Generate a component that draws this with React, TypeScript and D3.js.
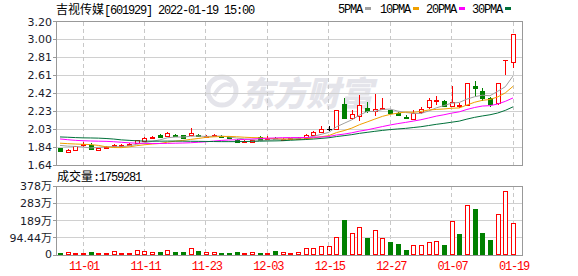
import React from 'react';
import * as d3 from 'd3';

const dates = [
  "10-27","10-28","10-29","11-01","11-02","11-03","11-04","11-05","11-08","11-09",
  "11-10","11-11","11-12","11-15","11-16","11-17","11-18","11-19","11-22","11-23",
  "11-24","11-25","11-26","11-29","11-30","12-01","12-02","12-03","12-06","12-07",
  "12-08","12-09","12-10","12-13","12-14","12-15","12-16","12-17","12-20","12-21",
  "12-22","12-23","12-24","12-27","12-28","12-29","12-30","12-31","01-04","01-05",
  "01-06","01-07","01-10","01-11","01-12","01-13","01-14","01-17","01-18","01-19"
];

const openP = [
  1.825,1.785,1.80,1.86,1.861,1.805,1.825,1.845,1.85,1.86,
  1.875,1.905,1.93,1.963,1.956,1.97,1.963,1.97,1.965,1.942,
  1.96,1.956,1.956,1.912,1.886,1.895,1.94,1.925,1.935,1.915,
  1.92,1.925,1.93,1.965,2.003,2.035,2.03,2.30,2.148,2.17,
  2.265,2.228,2.255,2.235,2.21,2.165,2.14,2.215,2.275,2.34,
  2.336,2.285,2.28,2.293,2.50,2.44,2.373,2.31,2.78,2.76
];
const highP = [
  1.83,1.81,1.85,1.89,1.883,1.825,1.85,1.87,1.87,1.875,
  1.915,1.945,1.95,1.98,2.00,1.975,1.965,2.045,1.975,1.965,
  1.98,1.97,1.96,1.92,1.91,1.915,1.955,1.95,1.94,1.93,
  1.935,1.94,1.975,2.015,2.06,2.06,2.24,2.37,2.24,2.40,
  2.32,2.41,2.37,2.24,2.215,2.18,2.24,2.27,2.373,2.39,
  2.345,2.50,2.31,2.53,2.55,2.48,2.38,2.53,2.78,3.06
];
const lowP = [
  1.78,1.78,1.795,1.84,1.80,1.792,1.82,1.84,1.845,1.855,
  1.87,1.90,1.925,1.93,1.95,1.95,1.928,1.965,1.945,1.94,
  1.955,1.94,1.92,1.88,1.88,1.89,1.905,1.915,1.91,1.91,
  1.915,1.92,1.925,1.955,1.99,2.01,2.03,2.148,2.13,2.12,
  2.20,2.177,2.25,2.19,2.17,2.14,2.135,2.19,2.25,2.293,
  2.275,2.27,2.255,2.29,2.38,2.336,2.275,2.29,2.62,2.69
];
const closeP = [
  1.789,1.807,1.847,1.869,1.815,1.82,1.84,1.855,1.86,1.87,
  1.912,1.934,1.945,1.942,1.985,1.956,1.93,1.988,1.955,1.96,
  1.965,1.945,1.93,1.887,1.905,1.912,1.91,1.935,1.92,1.925,
  1.93,1.935,1.965,2.00,2.035,2.035,2.24,2.155,2.19,2.29,
  2.23,2.25,2.262,2.21,2.18,2.155,2.203,2.25,2.348,2.35,
  2.28,2.33,2.29,2.53,2.48,2.366,2.30,2.53,2.78,3.06
];
// volume in 万股
const volumes = [
  12.6,16,11,11,18,11,11,22,11,11,
  26,22,16,16,26,16,16,37,22,16,
  16,11,11,16,11,16,11,11,22,16,
  11,16,37,37,49,49,97,192,119,155,
  91,135,91,71,60,27,53,53,71,77,
  53,186,115,274,252,122,82,225,351,175.9281
];
const ma5 = [
  1.853,1.845,1.842,1.836,1.825,1.832,1.838,1.840,1.838,1.849,
  1.865,1.882,1.898,1.913,1.936,1.944,1.944,1.952,1.955,1.950,
  1.952,1.955,1.945,1.933,1.924,1.915,1.909,1.910,1.916,1.920,
  1.924,1.929,1.935,1.951,1.973,1.994,2.055,2.093,2.131,2.182,
  2.221,2.223,2.244,2.248,2.226,2.211,2.202,2.200,2.227,2.261,
  2.286,2.312,2.320,2.356,2.382,2.399,2.393,2.441,2.491,2.607
];
const ma10 = [
  1.877,1.872,1.868,1.865,1.862,1.853,1.838,1.830,1.829,1.837,
  1.850,1.860,1.868,1.874,1.888,1.899,1.907,1.918,1.928,1.940,
  1.946,1.950,1.951,1.947,1.942,1.938,1.936,1.930,1.927,1.923,
  1.920,1.919,1.922,1.934,1.947,1.959,1.992,2.014,2.041,2.078,
  2.108,2.139,2.169,2.190,2.204,2.216,2.213,2.222,2.238,2.244,
  2.249,2.257,2.260,2.292,2.322,2.343,2.352,2.380,2.424,2.495
];
const ma20 = [
  1.923,1.915,1.908,1.904,1.901,1.899,1.897,1.893,1.887,1.881,
  1.877,1.875,1.874,1.874,1.875,1.877,1.879,1.882,1.887,1.892,
  1.900,1.907,1.912,1.914,1.918,1.923,1.927,1.931,1.934,1.937,
  1.938,1.938,1.939,1.942,1.944,1.949,1.966,1.976,1.990,2.008,
  2.022,2.040,2.058,2.075,2.090,2.103,2.117,2.132,2.151,2.171,
  2.186,2.204,2.218,2.244,2.265,2.281,2.285,2.303,2.332,2.369
];
const ma30 = [
  1.945,1.942,1.938,1.935,1.934,1.932,1.928,1.922,1.913,1.908,
  1.903,1.900,1.899,1.899,1.900,1.900,1.899,1.898,1.897,1.896,
  1.895,1.894,1.894,1.894,1.895,1.897,1.899,1.901,1.902,1.904,
  1.909,1.913,1.917,1.922,1.929,1.936,1.949,1.959,1.970,1.984,
  1.995,2.006,2.016,2.025,2.032,2.038,2.047,2.056,2.069,2.082,
  2.093,2.105,2.117,2.139,2.158,2.173,2.186,2.205,2.234,2.272
];

const priceTicks = [3.2, 3.005, 2.81, 2.615, 2.42, 2.225, 2.03, 1.835, 1.64];
const priceTickLabels = ["3.20","3.00","2.81","2.61","2.42","2.23","2.03","1.84","1.64"];
const volTicks = [377.76, 283.32, 188.88, 94.44, 0];
const volTickLabels = ["378万","283万","189万","94.44万","0"];
const xTickDates = ["11-01","11-11","11-23","12-03","12-15","12-27","01-07","01-19"];

const legendNames = ["5PMA","10PMA","20PMA","30PMA"];
const legendColors = ["#a0a0a0","#f0a000","#ff00ff","#00703a"];

const RED = "#ff0000";
const GREEN = "#008000";
const MONO = "'Liberation Mono', 'DejaVu Sans Mono', monospace";
const CJK = "'Noto Sans CJK SC', sans-serif";
const AXF = "'DejaVu Sans', 'Noto Sans CJK SC', sans-serif";

export default function App() {
  const W = 578, H = 276;
  const left = 56, right = 522;
  const mainTop = 21.5, mainBottom = 165;
  const volTop = 186, volBottom = 255;

  const x = d3.scalePoint<string>().domain(dates).range([60, 513]);
  const yP = d3.scaleLinear().domain([1.64, 3.2]).range([mainBottom, mainTop]);
  const yV = d3.scaleLinear().domain([0, 377.76]).range([volBottom, volTop]);
  const px = (v: number) => Math.floor(v) + 0.5;

  const mkLine = (arr: number[]) =>
    d3.line<number>().x((_, i) => x(dates[i]) as number).y((d) => yP(d))(arr) || "";
  const maSeries = [ma5, ma10, ma20, ma30];

  const candleColor = (i: number) => {
    const o = openP[i], c = closeP[i];
    const prev = i > 0 ? closeP[i - 1] : o;
    if (c > o) return RED;
    if (c < o) return GREEN;
    if (c > prev) return RED;
    if (c < prev) return GREEN;
    return "#000000";
  };
  const volColor = (i: number) => {
    if (i === 0) return closeP[0] >= openP[0] ? RED : GREEN;
    return closeP[i] >= closeP[i - 1] ? RED : GREEN;
  };

  return (
    <svg width={W} height={H} style={{ position: "absolute", left: 0, top: 0, background: "#fff" }}>
      <rect x={0} y={0} width={W} height={H} fill="#fff" />

      {/* title */}
      <text x={56} y={14} fontSize={12} fill="#000">
        <tspan fontFamily={CJK}>吉视传媒</tspan>
        <tspan fontFamily={MONO} letterSpacing={-1.2}>[601929] 2022-01-19 15:00</tspan>
      </text>

      {/* legend */}
      {legendNames.map((n, k) => {
        const lx = [338, 380, 426, 472][k];
        const sx = [365, 413, 459, 505][k];
        return (
          <g key={n}>
            <text x={lx} y={13} fontSize={12} fontFamily={MONO} letterSpacing={-1.2} fill="#000">{n}</text>
            <rect x={sx} y={7} width={6} height={3} fill={legendColors[k]} />
          </g>
        );
      })}

      {/* watermark */}
      <g opacity={1}>
        <circle cx={222} cy={91} r={14} fill="none" stroke="#e4e4ea" strokeWidth={5} />
        <path d="M214,96 Q222,80 232,86" fill="none" stroke="#e4e4ea" strokeWidth={4} />
        <text x={240} y={106} fontSize={34} fontFamily={CJK} fontWeight={900} fontStyle="italic"
          letterSpacing={-1} fill="#e4e4ea">东方财富</text>
      </g>

      {/* main grid */}
      {priceTicks.map((t, k) => (
        <g key={"pg" + k}>
          <line x1={left} x2={right} y1={px(yP(t))} y2={px(yP(t))} stroke="#d0d0d0" shapeRendering="crispEdges" />
          <line x1={53} x2={left} y1={px(yP(t))} y2={px(yP(t))} stroke="#999" shapeRendering="crispEdges" />
          <text x={52} y={yP(t) + 4} textAnchor="end" fontSize={11} fontFamily={AXF} fill="#1a1a2a">{priceTickLabels[k]}</text>
        </g>
      ))}
      {xTickDates.map((d) => (
        <g key={"vg" + d}>
          <line x1={px(x(d) as number)} x2={px(x(d) as number)} y1={mainTop} y2={mainBottom}
            stroke="#c8c8c8" strokeDasharray="4,3" shapeRendering="crispEdges" />
          <line x1={px(x(d) as number)} x2={px(x(d) as number)} y1={volTop} y2={volBottom}
            stroke="#c8c8c8" strokeDasharray="4,3" shapeRendering="crispEdges" />
          <text x={(x(d) as number) + 1} y={270} textAnchor="middle" fontSize={12} fontFamily={MONO}
            letterSpacing={-1.2} fill={RED}>{d}</text>
        </g>
      ))}

      {/* candles */}
      {dates.map((d, i) => {
        const cx = Math.round(x(d) as number);
        const o = openP[i], c = closeP[i], h = highP[i], l = lowP[i];
        const col = candleColor(i);
        const top = Math.round(yP(Math.max(o, c)));
        const bot = Math.round(yP(Math.min(o, c)));
        const wick = (
          <line x1={cx + 0.5} x2={cx + 0.5} y1={Math.round(yP(h))} y2={Math.round(yP(l))}
            stroke={col} shapeRendering="crispEdges" />
        );
        if (c > o) {
          return (
            <g key={d}>
              {wick}
              <rect x={cx - 2 + 0.5} y={top + 0.5} width={4} height={Math.max(1, bot - top)}
                fill="#fff" stroke={col} shapeRendering="crispEdges" />
            </g>
          );
        }
        if (c < o) {
          return (
            <g key={d}>
              {wick}
              <rect x={cx - 2} y={top} width={5} height={Math.max(1, bot - top + 1)}
                fill={col} shapeRendering="crispEdges" />
            </g>
          );
        }
        return (
          <g key={d}>
            {wick}
            <line x1={cx - 2} x2={cx + 3} y1={top + 0.5} y2={top + 0.5} stroke={col} shapeRendering="crispEdges" />
          </g>
        );
      })}

      {/* moving averages */}
      {maSeries.map((s, k) => (
        <path key={"ma" + k} d={mkLine(s)} fill="none" stroke={legendColors[k]} strokeWidth={1} />
      ))}

      {/* main frame */}
      <rect x={left + 0.5} y={mainTop} width={right - left} height={mainBottom - mainTop + 0.5}
        fill="none" stroke="#999" shapeRendering="crispEdges" />

      {/* volume panel */}
      <text x={57} y={181} fontSize={12} fill="#000">
        <tspan fontFamily={CJK}>成交量</tspan>
        <tspan fontFamily={MONO} letterSpacing={-1.2}>:1759281</tspan>
      </text>
      {volTicks.map((t, k) => (
        <g key={"vt" + k}>
          {k > 0 && k < volTicks.length - 1 && (
            <line x1={left} x2={right} y1={px(yV(t))} y2={px(yV(t))} stroke="#d0d0d0" shapeRendering="crispEdges" />
          )}
          <line x1={53} x2={left} y1={px(yV(t))} y2={px(yV(t))} stroke="#999" shapeRendering="crispEdges" />
          <text x={52} y={yV(t) + (k === volTicks.length - 1 ? 3 : 4)} textAnchor="end" fontSize={11}
            fontFamily={AXF} fill="#1a1a2a">{volTickLabels[k]}</text>
        </g>
      ))}
      {dates.map((d, i) => {
        const cx = Math.round(x(d) as number);
        const col = volColor(i);
        const top = Math.round(yV(volumes[i]));
        if (col === RED) {
          return (
            <rect key={"v" + d} x={cx - 2 + 0.5} y={top + 0.5} width={4} height={Math.max(1, volBottom - top - 1)}
              fill="#fff" stroke={col} shapeRendering="crispEdges" />
          );
        }
        return (
          <rect key={"v" + d} x={cx - 2} y={top} width={5} height={Math.max(1, volBottom - top)}
            fill={col} shapeRendering="crispEdges" />
        );
      })}
      <rect x={left + 0.5} y={volTop + 0.5} width={right - left} height={volBottom - volTop}
        fill="none" stroke="#999" shapeRendering="crispEdges" />
    </svg>
  );
}
